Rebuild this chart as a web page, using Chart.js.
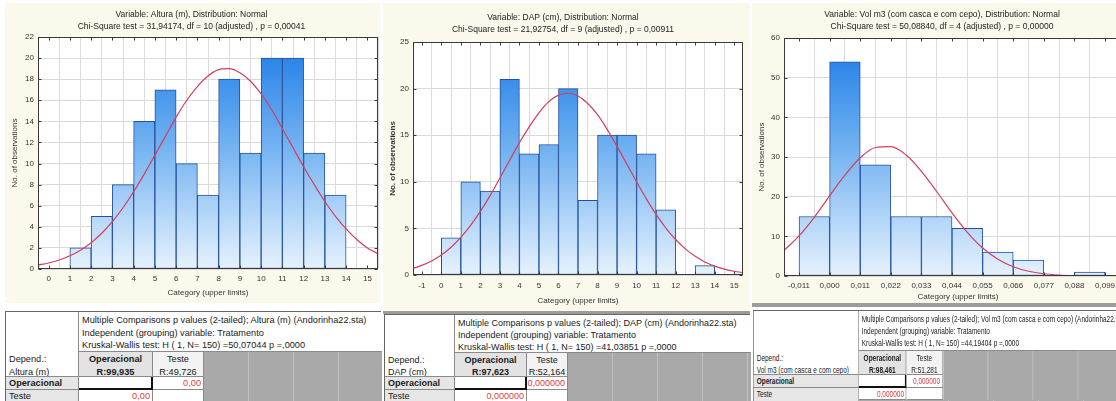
<!DOCTYPE html>
<html>
<head>
<meta charset="utf-8">
<script src="https://cdn.jsdelivr.net/npm/chart.js@4/dist/chart.umd.min.js"></script>
<style>
  body { margin: 0; width: 1116px; height: 401px; overflow: hidden; background: #fff; position: relative;
         font-family: "Liberation Sans", Arial, sans-serif; }
  canvas { position: absolute; background: #fbf8ec; }
  .tbl { position: absolute; background: #fff; box-sizing: border-box; border-left: 1px solid #666; border-top: 1px solid #666; transform-origin: 0 0; }
  .cell { position: absolute; box-sizing: border-box; white-space: nowrap; overflow: hidden; color: #1a1a1a; }
  .bar { position: absolute; background: #9c9c9c; }
</style>
</head>
<body>
<canvas id="c1" width="375" height="300" style="left:5px;top:3px"></canvas>
<canvas id="c2" width="367" height="308" style="left:383px;top:3px"></canvas>
<canvas id="c3" width="384" height="300" style="left:752px;top:3px"></canvas>
<div class="bar" style="left:752px;top:303px;width:364px;height:4px"></div>
<div class="bar" style="left:383px;top:311px;width:367px;height:3px"></div>
<script>
// Altura (m): bins by upper limit
const alturaUpper = [2, 3, 4, 5, 6, 7, 8, 9, 10, 11, 12, 13, 14];
const alturaCount = [2, 5, 8, 14, 17, 10, 7, 18, 11, 20, 20, 11, 7];
const alturaTicks = [0, 1, 2, 3, 4, 5, 6, 7, 8, 9, 10, 11, 12, 13, 14, 15];
const alturaCurveX = [-0.5, 0, 0.5, 1, 1.5, 2, 2.5, 3, 3.5, 4, 4.5, 5, 5.5, 6, 6.5, 7, 7.5, 8,
  8.5, 9, 9.5, 10, 10.5, 11, 11.5, 12, 12.5, 13, 13.5, 14, 14.5, 15, 15.5];
const alturaCurveY = [0.37, 0.57, 0.85, 1.25, 1.78, 2.49, 3.39, 4.49, 5.81, 7.33, 9.0, 10.8, 12.6,
  14.4, 16.0, 17.3, 18.3, 18.9, 19.0, 18.6, 17.8, 16.6, 15.1, 13.3, 11.5, 9.7, 8.0, 6.4, 5.0,
  3.8, 2.8, 2.0, 1.45];

// DAP (cm)
const dapUpper = [1, 2, 3, 4, 5, 6, 7, 8, 9, 10, 11, 12, 13, 14];
const dapCount = [4, 10, 9, 21, 13, 14, 20, 8, 15, 15, 13, 7, 0, 1];
const dapTicks = [-1, 0, 1, 2, 3, 4, 5, 6, 7, 8, 9, 10, 11, 12, 13, 14, 15];
const dapCurveX = [-1.5, -1, -0.5, 0, 0.5, 1, 1.5, 2, 2.5, 3, 3.5, 4, 4.5, 5, 5.5, 6, 6.5, 7,
  7.5, 8, 8.5, 9, 9.5, 10, 10.5, 11, 11.5, 12, 12.5, 13, 13.5, 14, 14.5, 15, 15.5];
const dapCurveY = [0.68, 1.03, 1.50, 2.14, 2.98, 4.03, 5.32, 6.82, 8.52, 10.4, 12.3, 14.2, 15.9,
  17.4, 18.6, 19.3, 19.5, 19.2, 18.4, 17.2, 15.6, 13.8, 11.9, 10.0, 8.17, 6.51, 5.04, 3.81,
  2.80, 2.00, 1.40, 0.95, 0.63, 0.40, 0.25];

// Vol m3 (com casca e com cepo)
const volUpper = [0, 0.011, 0.022, 0.033, 0.044, 0.055, 0.066, 0.077, 0.088, 0.099];
const volCount = [15, 54, 28, 15, 15, 12, 6, 4, 0, 1];
const volTicks = [-0.011, 0, 0.011, 0.022, 0.033, 0.044, 0.055, 0.066, 0.077, 0.088, 0.099];
const volCurveX = [-0.0164, -0.011, -0.0055, 0, 0.0055, 0.011, 0.0165, 0.022, 0.0275, 0.033,
  0.0385, 0.044, 0.0495, 0.055, 0.0605, 0.066, 0.0715, 0.077, 0.0825, 0.088, 0.0935, 0.099,
  0.1045, 0.109];
const volCurveY = [6.44, 10.1, 14.8, 20.2, 25.4, 29.8, 32.4, 32.6, 30.5, 26.4, 21.3, 15.9, 11.0,
  7.04, 4.20, 2.32, 1.19, 0.56, 0.25, 0.10, 0.04, 0.01, 0.005, 0.002];

// Kruskal-Wallis tables
const kwTitle = [
  ["Multiple Comparisons p values (2-tailed); Altura (m) (Andorinha22.sta)",
   "Independent (grouping) variable: Tratamento",
   "Kruskal-Wallis test: H ( 1, N= 150) =50,07044 p =,0000"],
  ["Multiple Comparisons p values (2-tailed); DAP (cm) (Andorinha22.sta)",
   "Independent (grouping) variable: Tratamento",
   "Kruskal-Wallis test: H ( 1, N= 150) =41,03851 p =,0000"],
  ["Multiple Comparisons p values (2-tailed); Vol m3 (com casca e com cepo) (Andorinha22.sta)",
   "Independent (grouping) variable: Tratamento",
   "Kruskal-Wallis test: H ( 1, N= 150) =44,19404 p =,0000"]
];
const kwDepend = [["Depend.:", "Altura (m)"], ["Depend.:", "DAP (cm)"], ["Depend.:", "Vol m3 (com casca e com cepo)"]];
const kwGroups = ["Operacional", "Teste"];
const kwRanks = [["R:99,935", "R:49,726"], ["R:97,623", "R:52,164"], ["R:98,461", "R:51,281"]];
const kwP = ["0,00", "0,000000", "0,000000"];

const FONT = '"Liberation Sans", Arial, sans-serif';

const frame = {
  id: "frame",
  beforeDraw(chart) {
    const { ctx, chartArea: a } = chart;
    ctx.save();
    ctx.fillStyle = "#fff";
    ctx.fillRect(a.left, a.top, a.right - a.left, a.bottom - a.top);
    ctx.restore();
  },
  afterDraw(chart) {
    const { ctx, chartArea: a, scales: { x, y } } = chart;
    const L = Math.round(a.left) + 0.5, R = Math.round(a.right) - 0.5;
    const T = Math.round(a.top) + 0.5, B = Math.round(a.bottom) - 0.5;
    ctx.save();
    ctx.strokeStyle = "#3a3a3a";
    ctx.lineWidth = 1;
    ctx.strokeRect(L, T, R - L, B - T);
    ctx.beginPath();
    x.ticks.forEach(t => {
      const px = Math.round(x.getPixelForValue(t.value)) + 0.5;
      ctx.moveTo(px, T); ctx.lineTo(px, T + 3);
      ctx.moveTo(px, B); ctx.lineTo(px, B - 3);
    });
    y.ticks.forEach(t => {
      const py = Math.round(y.getPixelForValue(t.value)) + 0.5;
      ctx.moveTo(L, py); ctx.lineTo(L + 3, py);
      ctx.moveTo(R, py); ctx.lineTo(R - 3, py);
    });
    ctx.stroke();
    ctx.restore();
  }
};

function barFill(context) {
  const { ctx, chartArea } = context.chart;
  if (!chartArea) return "#5ea6ee";
  const g = ctx.createLinearGradient(0, chartArea.top, 0, chartArea.bottom);
  g.addColorStop(0, "#1b7ae6");
  g.addColorStop(0.45, "#6fb0f1");
  g.addColorStop(1, "#e6f2fd");
  return g;
}

function histogram(id, o) {
  return new Chart(document.getElementById(id), {
    type: "bar",
    data: {
      datasets: [
        {
          type: "line",
          data: o.curveX.map((x, i) => ({ x: x, y: o.curveY[i] })),
          borderColor: "#d23f5c",
          borderWidth: 1.2,
          pointRadius: 0,
          cubicInterpolationMode: "monotone",
          order: 0
        },
        {
          type: "bar",
          data: o.upper.map((u, i) => ({ x: u - o.bin / 2, y: o.count[i] })),
          backgroundColor: barFill,
          borderColor: "#24509a",
          borderWidth: c => (c.raw && c.raw.y > 0 ? 1 : 0),
          borderSkipped: false,
          barPercentage: 1,
          categoryPercentage: 1,
          order: 1
        }
      ]
    },
    options: {
      responsive: false,
      animation: false,
      devicePixelRatio: 1,
      layout: { padding: o.pad },
      plugins: {
        legend: { display: false },
        tooltip: { enabled: false },
        title: {
          display: true,
          text: o.title,
          color: "#222",
          font: { family: FONT, size: 8.5, weight: "normal", lineHeight: 12 / 8.5 },
          padding: o.titlePad
        }
      },
      scales: {
        x: {
          type: "linear",
          offset: false,
          min: o.xMin,
          max: o.xMax,
          afterBuildTicks: s => { s.ticks = o.xTicks.map(v => ({ value: v })); },
          afterFit: s => { s.height = o.xH; },
          grid: { color: "#dadada", drawTicks: false },
          border: { display: false },
          ticks: { color: "#333", padding: o.xTickPad, maxRotation: 0, autoSkip: false,
                   font: { family: FONT, size: 8 }, callback: o.fmt },
          title: { display: true, text: "Category (upper limits)", color: "#333",
                   font: { family: FONT, size: 8, lineHeight: 1.5 }, padding: { top: 0, bottom: o.xTitlePad } }
        },
        y: {
          min: 0,
          max: o.yMax,
          afterBuildTicks: s => { s.ticks = o.yTicks.map(v => ({ value: v })); },
          afterFit: s => { s.width = o.yW; },
          grid: { color: "#dadada", drawTicks: false },
          border: { display: false },
          ticks: { color: "#333", padding: 4, font: { family: FONT, size: 8 } },
          title: { display: true, text: "No. of observations", color: "#333",
                   font: { family: FONT, size: 8, lineHeight: 1.5, weight: o.yBold ? "bold" : "normal" },
                   padding: { top: 4, bottom: 0 } }
        }
      }
    },
    plugins: [frame]
  });
}

histogram("c1", {
  upper: alturaUpper, count: alturaCount, bin: 1, curveX: alturaCurveX, curveY: alturaCurveY,
  xTicks: alturaTicks, xMin: -0.5, xMax: 15.5, yMax: 22, yTicks: [0, 2, 4, 6, 8, 10, 12, 14, 16, 18, 20, 22],
  title: ["Variable: Altura (m), Distribution: Normal", "Chi-Square test = 31,94174, df = 10 (adjusted) , p = 0,00041"],
  titlePad: { top: 6, bottom: 4 }, pad: { left: 0, right: 2, top: 0, bottom: 0 },
  yW: 33, xH: 34, xTickPad: 5, xTitlePad: 4, fmt: v => String(v)
});

histogram("c2", {
  upper: dapUpper, count: dapCount, bin: 1, curveX: dapCurveX, curveY: dapCurveY,
  xTicks: dapTicks, xMin: -1.45, xMax: 15.45, yMax: 25, yTicks: [0, 5, 10, 15, 20, 25],
  title: ["Variable: DAP (cm), Distribution: Normal", "Chi-Square test = 21,92754, df = 9 (adjusted) , p = 0,00911"],
  titlePad: { top: 9, bottom: 6 }, pad: { left: 0, right: 7, top: 0, bottom: 0 },
  yW: 30, xH: 36, xTickPad: 6, xTitlePad: 4, yBold: true, fmt: v => String(v)
});

histogram("c3", {
  upper: volUpper, count: volCount, bin: 0.011, curveX: volCurveX, curveY: volCurveY,
  xTicks: volTicks, xMin: -0.0164, xMax: 0.1087, yMax: 60, yTicks: [0, 10, 20, 30, 40, 50, 60],
  title: ["Variable: Vol m3 (com casca e com cepo), Distribution: Normal", "Chi-Square test = 50,08840, df = 4 (adjusted) , p = 0,00000"],
  titlePad: { top: 6, bottom: 5 }, pad: { left: 0, right: 4, top: 0, bottom: 0 },
  yW: 32, xH: 27, xTickPad: 5, xTitlePad: 0, fmt: v => v.toFixed(3).replace(".", ",")
});

// --- tables (Statistica style spreadsheets) ---
const tableGeo = [
  { x: 5, y: 311, w: 376, cols: [73, 74, 51], hb: 40, rh: 25, r: 13, fs: 9.2, lh: 12.5, sx: 1 },
  { x: 384, y: 314, w: 366, cols: [70, 72, 41], hb: 38, rh: 24, r: 12.5, fs: 9, lh: 12, sx: 1 },
  { x: 753, y: 310, w: 363, cols: [105, 48, 36], hb: 40, rh: 24, r: 12.5, fs: 9, lh: 12, sx: 0.72 }
];

function buildTable(i) {
  const g = tableGeo[i];
  const k = 1 / g.sx;
  const box = document.createElement("div");
  box.className = "tbl";
  Object.assign(box.style, {
    left: g.x + "px", top: g.y + "px", width: g.w * k + "px", height: 401 - g.y + 4 + "px",
    fontSize: g.fs + "px", lineHeight: g.lh + "px", transform: "scaleX(" + g.sx + ")"
  });
  document.body.appendChild(box);
  const add = (x, y, w, h, html, css) => {
    const d = document.createElement("div");
    d.className = "cell";
    Object.assign(d.style, { left: x * k + "px", top: y + "px", width: w * k + "px", height: h + "px" }, css || {});
    d.innerHTML = html;
    box.appendChild(d);
    return d;
  };
  const [c0, c1, c2] = g.cols;
  const x1 = c0, x2 = c0 + c1, x3 = c0 + c1 + c2;
  const y1 = g.hb, y2 = g.hb + g.rh, y3 = y2 + g.r, y4 = y3 + g.r;
  const line = "1px solid #8a8a8a";
  const grayBg = "repeating-linear-gradient(90deg, #a9a9a9 0, #a9a9a9 " + (44 * k) + "px, #c2c2c2 " + (44 * k) + "px, #c2c2c2 " + (45 * k) + "px)";
  // left header block
  add(0, 0, c0, y2, kwDepend[i].join("<br>"),
    { borderRight: line, borderBottom: line, paddingLeft: 3 * k + "px", paddingTop: (y1 + 1) + "px" });
  // title lines
  add(x1, 0, g.w - x1, y1, kwTitle[i].join("<br>"), { borderBottom: line, padding: "2px " + 3 * k + "px" });
  // column headers
  add(x1, y1, c1, g.rh, "<b>" + kwGroups[0] + "</b><br><b>" + kwRanks[i][0] + "</b>",
    { background: "#e3e3e3", textAlign: "center", borderRight: line, borderBottom: line, paddingTop: "1px" });
  add(x2, y1, c2, g.rh, kwGroups[1] + "<br>" + kwRanks[i][1],
    { background: "#f3f3f3", textAlign: "center", borderRight: line, borderBottom: line, paddingTop: "1px" });
  add(x3, y1, g.w - x3, 401, "", { background: grayBg });
  // rows
  add(0, y2, c0, g.r, "<b>" + kwGroups[0] + "</b>",
    { background: "#e6e6e6", borderRight: line, borderBottom: line, paddingLeft: 3 * k + "px" });
  add(0, y3, c0, 401, kwGroups[1],
    { background: "#e6e6e6", borderRight: line, paddingLeft: 3 * k + "px" });
  add(x1, y2, c1, g.r, "", { background: "#fff", borderBottom: "2px solid #111", borderRight: "2px solid #111" });
  add(x2, y2, c2, g.r, kwP[i],
    { background: "#fff", color: "#e23b3b", textAlign: "right", paddingRight: 2 * k + "px", borderBottom: line, borderRight: line });
  add(x1, y3, c1, g.r, kwP[i],
    { background: "#fff", color: "#e23b3b", textAlign: "right", paddingRight: 2 * k + "px", borderBottom: line, borderRight: line });
  add(x2, y3, c2, g.r, "", { background: "#fff", borderBottom: line, borderRight: line });
  add(x1, y4, g.w - x1, 401, "", { background: grayBg });
}
[0, 1, 2].forEach(buildTable);
</script>
</body>
</html>
